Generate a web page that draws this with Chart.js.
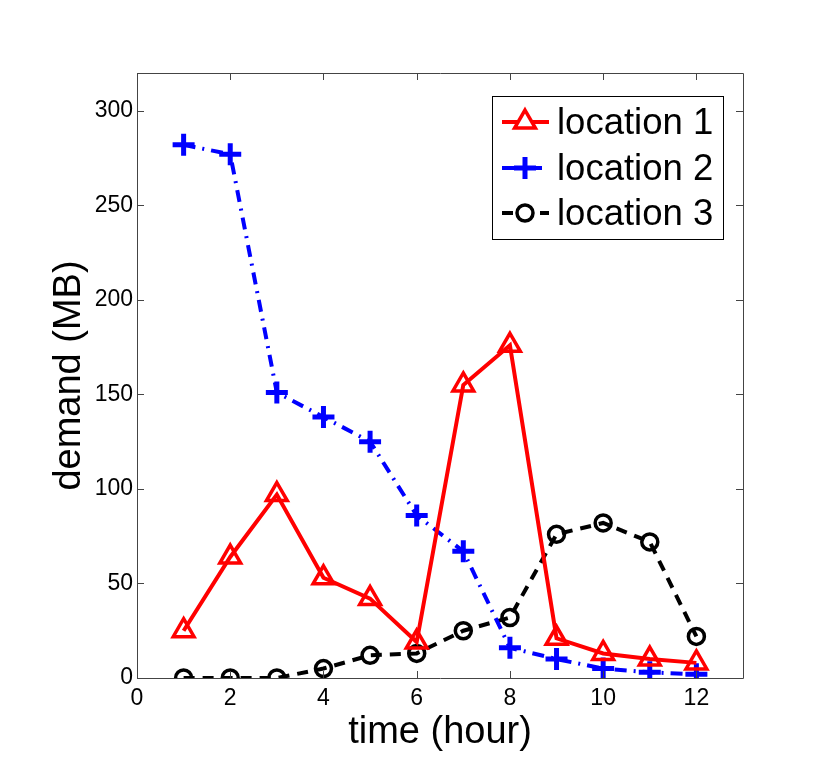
<!DOCTYPE html>
<html>
<head>
<meta charset="utf-8">
<script src="https://cdn.jsdelivr.net/npm/chart.js@4.4.1/dist/chart.umd.min.js"></script>
<style>
html,body{margin:0;padding:0;background:#fff;}
#wrap{width:831px;height:767px;}
</style>
</head>
<body>
<div id="wrap"><canvas id="c" width="831" height="767"></canvas></div>
<script>
const hours = [1,2,3,4,5,6,7,8,9,10,11,12];
const location1 = [25,64,97,53,42,19,155,176,21,13,10,8];
const location2 = [282,277,151,138,125,86,67,16,10,5,3,2];
const location3 = [0,0,0,5,12,13,25,32,76,82,72,22];
const seriesNames = ['location 1','location 2','location 3'];
const xTicks = [0,2,4,6,8,10,12];
const yTicks = [0,50,100,150,200,250,300];

const FONT = "'Liberation Sans', Arial, Helvetica, sans-serif";

function pts(arr){ return hours.map((h,i)=>({x:h,y:arr[i]})); }

const datasets = [
  {label:seriesNames[0], data:pts(location1), borderColor:'#ff0000', backgroundColor:'#ffffff',
   borderWidth:4, pointStyle:'triangle', pointRadius:12, pointBorderWidth:3.5,
   pointBorderColor:'#ff0000', pointBackgroundColor:'rgba(255,255,255,0)', borderDash:[]},
  {label:seriesNames[1], data:pts(location2), borderColor:'#0000ff', backgroundColor:'#ffffff',
   borderWidth:4, pointStyle:'cross', pointRadius:11, pointBorderWidth:5,
   pointBorderColor:'#0000ff', borderDash:[12,7,2,7]},
  {label:seriesNames[2], data:pts(location3), borderColor:'#000000', backgroundColor:'#ffffff',
   borderWidth:4, pointStyle:'circle', pointRadius:8, pointBorderWidth:3.5,
   pointBorderColor:'#000000', pointBackgroundColor:'rgba(255,255,255,0)', borderDash:[11,8]}
];

const boxPlugin = {
  id:'boxPlugin',
  afterDatasetsDraw(chart){
    const {ctx, chartArea:a, scales:{x,y}} = chart;
    ctx.save();
    ctx.strokeStyle = '#444';
    ctx.lineWidth = 1;
    ctx.beginPath();
    ctx.rect(Math.round(a.left)+0.5, Math.round(a.top)+0.5, Math.round(a.right-a.left), Math.round(a.bottom-a.top));
    ctx.stroke();
    const L = 7;
    ctx.beginPath();
    xTicks.forEach(v=>{
      const px = Math.round(x.getPixelForValue(v))+0.5;
      ctx.moveTo(px,a.bottom); ctx.lineTo(px,a.bottom-L);
      ctx.moveTo(px,a.top); ctx.lineTo(px,a.top+L);
    });
    yTicks.forEach(v=>{
      const py = Math.round(y.getPixelForValue(v))+0.5;
      ctx.moveTo(a.left,py); ctx.lineTo(a.left+L,py);
      ctx.moveTo(a.right,py); ctx.lineTo(a.right-L,py);
    });
    ctx.stroke();

    // legend
    const bx=492.5, by=96.5, bw=231, bh=143;
    ctx.fillStyle='#fff';
    ctx.fillRect(bx,by,bw,bh);
    ctx.strokeStyle='#000';
    ctx.lineWidth=1;
    ctx.strokeRect(bx,by,bw,bh);
    const rows=[122,168,213];
    chart.data.datasets.forEach((ds,i)=>{
      const yy=rows[i];
      ctx.save();
      ctx.strokeStyle=ds.borderColor;
      ctx.lineWidth=ds.borderWidth;
      ctx.setLineDash(ds.borderDash||[]);
      ctx.beginPath(); ctx.moveTo(502,yy); ctx.lineTo(549,yy); ctx.stroke();
      ctx.setLineDash([]);
      ctx.fillStyle='#fff';
      ctx.strokeStyle=ds.pointBorderColor;
      ctx.lineWidth=ds.pointBorderWidth;
      Chart.helpers.drawPoint(ctx,{pointStyle:ds.pointStyle,radius:ds.pointRadius,rotation:0,borderWidth:ds.pointBorderWidth},525,yy);
      ctx.restore();
      ctx.fillStyle='#000';
      ctx.font='36.5px '+FONT;
      ctx.textBaseline='middle';
      ctx.textAlign='left';
      ctx.fillText(ds.label,557,yy+2);
    });
    ctx.restore();
  }
};

new Chart(document.getElementById('c'),{
  type:'line',
  data:{datasets},
  options:{
    responsive:false,
    animation:false,
    devicePixelRatio:1,
    layout:{padding:{top:73,right:88,left:0,bottom:0}},
    plugins:{legend:{display:false},tooltip:{enabled:false}},
    elements:{line:{tension:0}},
    scales:{
      x:{type:'linear',min:0,max:13,
        afterBuildTicks(s){ s.ticks = xTicks.map(v=>({value:v})); },
        afterFit(s){ s.height = 89; },
        grid:{display:false,drawTicks:false},
        border:{display:false},
        ticks:{color:'#000',font:{family:FONT,size:23},padding:7,maxRotation:0,autoSkip:false},
        title:{display:true,text:'time (hour)',color:'#000',font:{family:FONT,size:38},padding:{top:0,bottom:12}}
      },
      y:{type:'linear',min:0,max:320,
        afterBuildTicks(s){ s.ticks = yTicks.map(v=>({value:v})); },
        afterFit(s){ s.width = 137; },
        grid:{display:false,drawTicks:false},
        border:{display:false},
        ticks:{color:'#000',font:{family:FONT,size:23},padding:4,autoSkip:false},
        title:{display:true,text:'demand (MB)',color:'#000',font:{family:FONT,size:38},padding:{top:47,bottom:0}}
      }
    }
  },
  plugins:[boxPlugin]
});
</script>
</body>
</html>
